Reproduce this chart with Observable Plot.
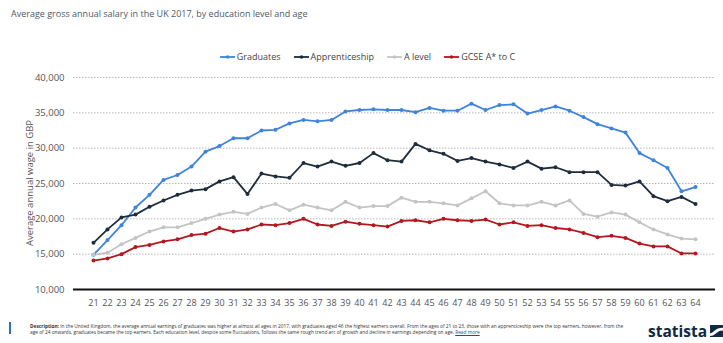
<!DOCTYPE html>
<html>
<head>
<meta charset="utf-8">
<script src="https://cdn.jsdelivr.net/npm/d3@7"></script>
<script src="https://cdn.jsdelivr.net/npm/@observablehq/plot@0.6"></script>
<style>
  html, body { margin: 0; padding: 0; background: #fff; }
  #page { position: relative; width: 723px; height: 343px; overflow: hidden; font-family: "Open Sans", sans-serif; }
  #title { position: absolute; left: 11px; top: 7px; font-size: 9px; color: #4e5965; white-space: nowrap; }
  #legend { position: absolute; left: 0; top: 50px; width: 723px; padding-left: 12px; box-sizing: border-box; display: flex; justify-content: center; gap: 13px; font-size: 9px; color: #444; }
  #legend .item { display: flex; align-items: center; gap: 2px; }
  #chart { position: absolute; left: 0; top: 60px; }
  #ylabel { position: absolute; left: 29px; top: 183px; transform: translate(-50%, -50%) rotate(-90deg); font-size: 9.5px; color: #555; white-space: nowrap; }
  #desc { position: absolute; left: 30px; top: 323px; font-size: 4.8px; line-height: 6px; color: #333; white-space: nowrap; }
  #desc b { font-weight: 700; }
  #desc u { color: #1f4e99; }
  #bar { position: absolute; left: 9px; top: 322px; width: 2px; height: 12px; background: #2f6fc0; }
  #logo { position: absolute; left: 648px; top: 320px; font-size: 15.5px; font-weight: 700; color: #0f2a45; display: flex; align-items: center; gap: 3px; }
</style>
</head>
<body>
<div id="page">
  <div id="title">Average gross annual salary in the UK 2017, by education level and age</div>
  <div id="legend"></div>
  <div id="chart"></div>
  <div id="ylabel">Average annual wage in GBP</div>
  <div id="bar"></div>
  <div id="desc"><b>Description:</b> In the United Kingdom, the average annual earnings of graduates was higher at almost all ages in 2017, with graduates aged 46 the highest earners overall. From the ages of 21 to 23, those with an apprenticeship were the top earners, however, from the<br>age of 24 onwards, graduates became the top earners. Each education level, despite some fluctuations, follows the same rough trend arc of growth and decline in earnings depending on age. <u>Read more</u></div>
  <div id="logo"><span>statista</span><svg width="13" height="12" viewBox="0 0 14 13"><rect x="0" y="0" width="14" height="13" fill="#0f2a45"/><path d="M0 9 C4 9 5 3 14 3 L14 6 C7 6 6 12 0 12 Z" fill="#fff"/></svg></div>
</div>
<script>
const ages = [21,22,23,24,25,26,27,28,29,30,31,32,33,34,35,36,37,38,39,40,41,42,43,44,45,46,47,48,49,50,51,52,53,54,55,56,57,58,59,60,61,62,63,64];
const seriesNames = ["Graduates", "Apprenticeship", "A level", "GCSE A* to C"];
const seriesColors = ["#3f84da", "#1e2c3b", "#c4c4c4", "#b3181f"];
const graduates = [14900,17000,19100,21600,23400,25500,26200,27400,29500,30300,31400,31400,32500,32600,33500,34000,33800,34000,35200,35400,35500,35400,35400,35100,35700,35300,35300,36300,35400,36100,36200,34900,35400,35900,35300,34400,33400,32800,32200,29300,28300,27200,23900,24500];
const apprenticeship = [16600,18500,20200,20600,21700,22600,23400,24000,24200,25300,25900,23500,26400,26000,25800,27900,27400,28100,27500,27900,29300,28300,28100,30600,29700,29200,28200,28600,28100,27700,27200,28100,27100,27300,26600,26600,26600,24800,24700,25300,23200,22500,23100,22100];
const aLevel = [14900,15200,16400,17300,18200,18800,18800,19400,20000,20600,21000,20700,21600,22100,21200,22000,21600,21200,22400,21600,21800,21800,23000,22400,22400,22200,21900,22900,23900,22200,21900,21900,22400,21900,22600,20700,20300,20900,20600,19500,18500,17800,17200,17100];
const gcse = [14100,14400,15000,16000,16300,16800,17100,17700,17900,18700,18200,18500,19200,19100,19400,20000,19200,19000,19600,19300,19100,18900,19700,19800,19500,20000,19800,19700,19900,19200,19500,19000,19100,18700,18500,18000,17400,17600,17300,16500,16100,16100,15100,15100];
const yTicks = [10000,15000,20000,25000,30000,35000,40000];

const seriesValues = [graduates, apprenticeship, aLevel, gcse];
const rows = seriesNames.flatMap((name, i) => seriesValues[i].map((v, j) => ({age: ages[j], value: v, series: name})));

// legend
const legend = d3.select("#legend");
seriesNames.forEach((name, i) => {
  const item = legend.append("div").attr("class", "item");
  const svg = item.append("svg").attr("width", 15).attr("height", 8);
  svg.append("line").attr("x1", 0).attr("x2", 15).attr("y1", 4).attr("y2", 4).attr("stroke", seriesColors[i]).attr("stroke-width", 1.8);
  svg.append("circle").attr("cx", 7.5).attr("cy", 4).attr("r", 1.8).attr("fill", seriesColors[i]);
  item.append("span").text(name);
});

const chart = Plot.plot({
  width: 723,
  height: 250,
  marginTop: 17,
  marginBottom: 21,
  marginLeft: 73,
  marginRight: 8,
  style: {fontFamily: "Open Sans, sans-serif", fontSize: "9.5px", color: "#555", background: "transparent"},
  x: {type: "point", domain: ages, padding: 0.5, label: null},
  y: {domain: [10000, 40000], label: null},
  color: {domain: seriesNames, range: seriesColors},
  marks: [
    Plot.gridY(yTicks.filter(t => t > 10000), {stroke: "#b8b8b8", strokeOpacity: 1, strokeDasharray: "1.5,1.5"}),
    Plot.axisY(yTicks, {tickSize: 0, tickPadding: 9, tickFormat: d3.format(","), label: null}),
    Plot.axisX(ages, {tickSize: 0, tickPadding: 10, label: null, fontSize: 9}),
    Plot.ruleY([10000], {stroke: "#111", strokeWidth: 2}),
    Plot.line(rows, {x: "age", y: "value", stroke: "series", z: "series", strokeWidth: 1.8}),
    Plot.dot(rows, {x: "age", y: "value", fill: "series", r: 2})
  ]
});
document.getElementById("chart").appendChild(chart);
</script>
</body>
</html>
